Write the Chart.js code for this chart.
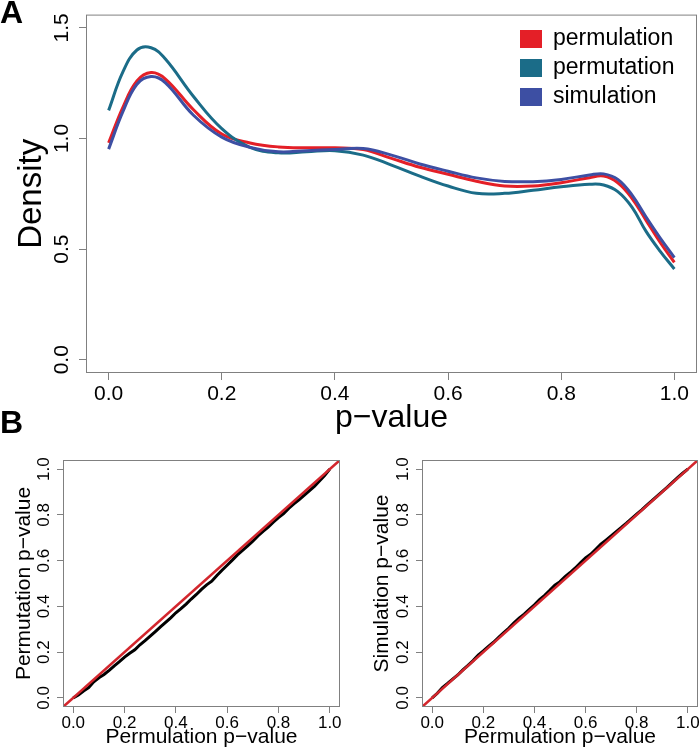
<!DOCTYPE html>
<html>
<head>
<meta charset="utf-8">
<script src="https://cdn.jsdelivr.net/npm/chart.js@4.4.0/dist/chart.umd.min.js"></script>
<style>
  body { margin: 0; background: #fff; }
  #wrap { position: relative; width: 700px; height: 750px; }
  canvas { position: absolute; }
</style>
</head>
<body>
<div id="wrap">
  <canvas id="graficoDensidade" width="700" height="440" style="left:0px;top:0px"></canvas>
  <canvas id="graficoQQ1" width="350" height="310" style="left:0px;top:440px"></canvas>
  <canvas id="graficoQQ2" width="350" height="310" style="left:350px;top:440px"></canvas>
</div>
<script>
// --- painel A: densidades ---
const pValores = [0, 0.025, 0.05, 0.075, 0.1, 0.15, 0.2, 0.25, 0.3, 0.35, 0.4, 0.45, 0.5, 0.55, 0.6, 0.65, 0.7, 0.75, 0.8, 0.85, 0.875, 0.9, 0.925, 0.95, 0.975, 1.0];
const densPermulation = [0.98, 1.14, 1.26, 1.298, 1.27, 1.13, 1.02, 0.98, 0.962, 0.958, 0.958, 0.95, 0.91, 0.87, 0.838, 0.807, 0.785, 0.785, 0.80, 0.823, 0.83, 0.80, 0.73, 0.63, 0.53, 0.44];
const densPermutation = [1.127, 1.30, 1.40, 1.41, 1.36, 1.19, 1.045, 0.96, 0.935, 0.94, 0.945, 0.925, 0.88, 0.83, 0.785, 0.752, 0.752, 0.766, 0.782, 0.793, 0.79, 0.76, 0.69, 0.58, 0.49, 0.41];
const densSimulation = [0.952, 1.12, 1.245, 1.28, 1.253, 1.105, 1.006, 0.96, 0.94, 0.945, 0.95, 0.955, 0.925, 0.885, 0.852, 0.822, 0.806, 0.805, 0.815, 0.835, 0.84, 0.815, 0.745, 0.645, 0.55, 0.462];
const ticksXDens = [0, 0.2, 0.4, 0.6, 0.8, 1.0];
const ticksYDens = [0, 0.5, 1.0, 1.5];

// --- painel B: QQ plots ---
const qqPermulation = [0, 0.02, 0.04, 0.06, 0.08, 0.10, 0.12, 0.14, 0.16, 0.18, 0.20, 0.22, 0.24, 0.26, 0.28, 0.30, 0.32, 0.34, 0.36, 0.38, 0.40, 0.42, 0.44, 0.46, 0.48, 0.50, 0.52, 0.54, 0.56, 0.58, 0.60, 0.62, 0.64, 0.66, 0.68, 0.70, 0.72, 0.74, 0.76, 0.78, 0.80, 0.82, 0.84, 0.86, 0.88, 0.90, 0.92, 0.94, 0.96, 0.98, 1.00];
const qqPermutation = [0, 0.012, 0.03, 0.045, 0.07, 0.088, 0.102, 0.12, 0.14, 0.158, 0.178, 0.195, 0.21, 0.232, 0.25, 0.27, 0.29, 0.31, 0.33, 0.35, 0.372, 0.39, 0.41, 0.432, 0.452, 0.474, 0.494, 0.51, 0.535, 0.558, 0.58, 0.602, 0.625, 0.645, 0.665, 0.685, 0.708, 0.728, 0.746, 0.768, 0.788, 0.806, 0.828, 0.848, 0.866, 0.885, 0.905, 0.925, 0.948, 0.972, 1.0];
const qqSimulation = [0, 0.02, 0.045, 0.063, 0.082, 0.1, 0.122, 0.142, 0.163, 0.187, 0.205, 0.225, 0.243, 0.265, 0.285, 0.305, 0.328, 0.348, 0.366, 0.387, 0.407, 0.43, 0.448, 0.47, 0.493, 0.508, 0.53, 0.548, 0.568, 0.59, 0.612, 0.628, 0.65, 0.672, 0.69, 0.708, 0.727, 0.745, 0.764, 0.784, 0.803, 0.822, 0.843, 0.862, 0.882, 0.902, 0.921, 0.942, 0.963, 0.982, 1.0];
const diagonal = [-0.04, 1.04];
const ticksQQ = [0, 0.2, 0.4, 0.6, 0.8, 1.0];

const FONTE = "'Liberation Sans', Arial, Helvetica, sans-serif";
Chart.defaults.font.family = FONTE;
Chart.defaults.color = '#000';
Chart.defaults.animation = false;

function pares(xs, ys) {
    return xs.map((x, i) => ({ x, y: ys[i] }));
}

// caixa cinza em volta da área do gráfico (bty = "o")
const moldura = {
    id: 'moldura',
    afterDraw(chart) {
        const { ctx, chartArea: a } = chart;
        ctx.save();
        ctx.strokeStyle = '#808080';
        ctx.lineWidth = 1;
        ctx.strokeRect(a.left + 0.5, a.top + 0.5, a.right - a.left - 1, a.bottom - a.top - 1);
        ctx.restore();
    }
};

// legenda com quadrados, estilo R
const legendaQuadrados = {
    id: 'legendaQuadrados',
    afterDraw(chart) {
        const ctx = chart.ctx;
        ctx.save();
        ctx.font = '23px ' + FONTE;
        ctx.textBaseline = 'middle';
        chart.data.datasets.forEach((ds, i) => {
            const y = 39 + i * 29;
            ctx.fillStyle = ds.borderColor;
            ctx.fillRect(520, y - 9, 22, 18);
            ctx.fillStyle = '#000';
            ctx.fillText(ds.label, 553, y);
        });
        ctx.restore();
    }
};

// letras dos painéis
const letras = {
    id: 'letras',
    afterDraw(chart) {
        const ctx = chart.ctx;
        ctx.save();
        ctx.font = 'bold 32px ' + FONTE;
        ctx.fillStyle = '#000';
        ctx.textBaseline = 'alphabetic';
        ctx.fillText('A', 0, 23);
        ctx.fillText('B', 0, 433);
        ctx.restore();
    }
};

function eixoX(ticks, c) {
    return {
        type: 'linear', min: -0.04, max: 1.04,
        afterBuildTicks: s => { s.ticks = ticks.map(v => ({ value: v })); },
        afterFit: s => { s.height = c.altura; },
        grid: { drawOnChartArea: false, drawTicks: true, tickLength: c.tick, color: '#808080' },
        border: { display: false },
        ticks: { padding: c.pad, font: { size: c.fonte }, color: '#000', maxRotation: 0, autoSkip: false, callback: v => v.toFixed(1) },
        title: { display: true, text: c.titulo, color: '#000', font: { size: c.fonteTitulo }, padding: { top: 0, bottom: c.tituloPad } }
    };
}

function eixoY(min, max, ticks, c) {
    return {
        type: 'linear', min, max,
        afterBuildTicks: s => { s.ticks = ticks.map(v => ({ value: v })); },
        afterFit: s => { s.width = c.largura; },
        grid: { drawOnChartArea: false, drawTicks: true, tickLength: c.tick, color: '#808080' },
        border: { display: false },
        ticks: { padding: c.pad, font: { size: c.fonte }, color: '#000', minRotation: 90, maxRotation: 90, crossAlign: 'center', autoSkip: false, callback: v => v.toFixed(1) },
        title: { display: true, text: c.titulo, color: '#000', font: { size: c.fonteTitulo }, padding: { top: c.tituloPad, bottom: 0 } }
    };
}

const semPlugins = { legend: { display: false }, tooltip: { enabled: false } };

// painel A
new Chart(document.getElementById('graficoDensidade'), {
    type: 'line',
    data: {
        datasets: [
            { label: 'permulation', data: pares(pValores, densPermulation), borderColor: '#E41F27', order: 2 },
            { label: 'permutation', data: pares(pValores, densPermutation), borderColor: '#1B6C88', order: 1 },
            { label: 'simulation', data: pares(pValores, densSimulation), borderColor: '#3D4FA3', order: 0 }
        ]
    },
    options: {
        responsive: false,
        layout: { padding: { left: 0, right: 3, top: 14, bottom: 0 } },
        elements: { point: { radius: 0 }, line: { borderWidth: 3, tension: 0.4, fill: false } },
        plugins: semPlugins,
        scales: {
            x: eixoX(ticksXDens, { altura: 67, tick: 7, pad: 2, fonte: 21, titulo: 'p\u2212value', fonteTitulo: 32, tituloPad: 3 }),
            y: eixoY(-0.06, 1.56, ticksYDens, { largura: 86, tick: 7, pad: 2, fonte: 21, titulo: 'Density', fonteTitulo: 33, tituloPad: 12 })
        }
    },
    plugins: [moldura, legendaQuadrados, letras]
});

function graficoQQ(id, valores, tituloY, largura, direita, tituloPad) {
    new Chart(document.getElementById(id), {
        type: 'line',
        data: {
            datasets: [
                { data: pares(diagonal, diagonal), borderColor: '#D3262D', borderWidth: 2.5 },
                { data: pares(qqPermulation, valores), borderColor: '#000', borderWidth: 3 }
            ]
        },
        options: {
            responsive: false,
            layout: { padding: { left: 0, right: direita, top: 20, bottom: 0 } },
            elements: { point: { radius: 0 }, line: { tension: 0, fill: false } },
            plugins: semPlugins,
            scales: {
                x: eixoX(ticksQQ, { altura: 43, tick: 6, pad: 0, fonte: 17, titulo: 'Permulation p\u2212value', fonteTitulo: 21, tituloPad: 0 }),
                y: eixoY(-0.04, 1.04, ticksQQ, { largura: largura, tick: 6, pad: 1, fonte: 17, titulo: tituloY, fonteTitulo: 21, tituloPad: tituloPad })
            }
        },
        plugins: [moldura]
    });
}

graficoQQ('graficoQQ1', qqPermutation, 'Permutation p\u2212value', 63, 10, 12);
graficoQQ('graficoQQ2', qqSimulation, 'Simulation p\u2212value', 72, 2, 20);
</script>
</body>
</html>
